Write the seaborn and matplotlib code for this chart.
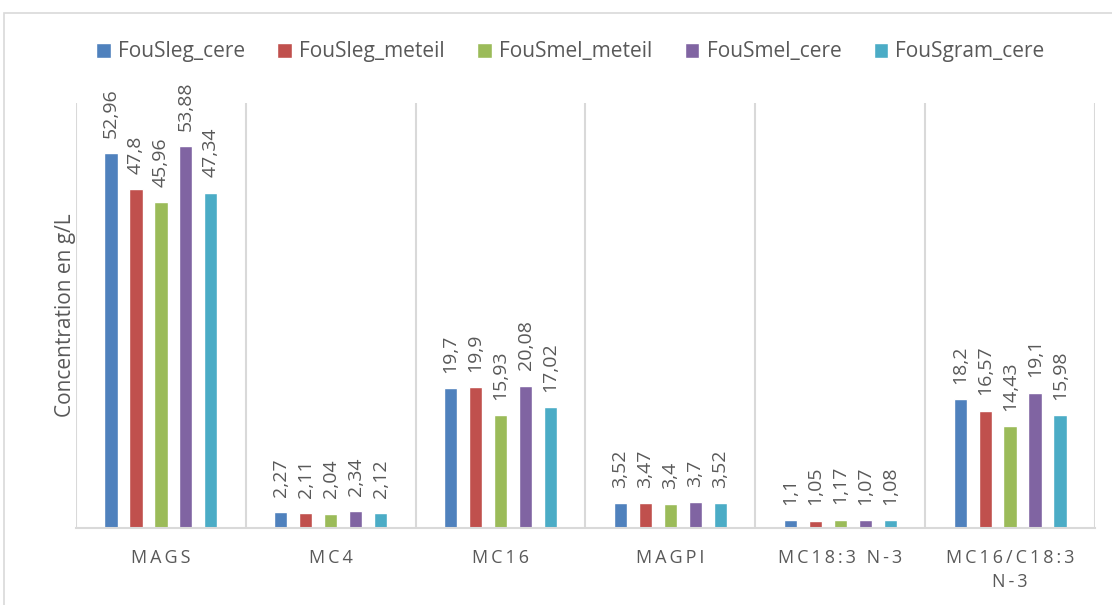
import matplotlib
matplotlib.use("Agg")
import matplotlib.pyplot as plt
from matplotlib.patches import Rectangle
import pandas as pd
import seaborn as sns

categories = ["MAGS", "MC4", "MC16", "MAGPI", "MC18:3 N-3", "MC16/C18:3\nN-3"]
series = ["FouSleg_cere", "FouSleg_meteil", "FouSmel_meteil", "FouSmel_cere", "FouSgram_cere"]
fousleg_cere = [52.96, 2.27, 19.7, 3.52, 1.1, 18.2]
fousleg_meteil = [47.8, 2.11, 19.9, 3.47, 1.05, 16.57]
fousmel_meteil = [45.96, 2.04, 15.93, 3.4, 1.17, 14.43]
fousmel_cere = [53.88, 2.34, 20.08, 3.7, 1.07, 19.1]
fousgram_cere = [47.34, 2.12, 17.02, 3.52, 1.08, 15.98]
colors = ["#4F81BD", "#C0504D", "#9BBB59", "#8064A2", "#4BACC6"]
y_label = "Concentration en g/L"

values = [fousleg_cere, fousleg_meteil, fousmel_meteil, fousmel_cere, fousgram_cere]
rows = []
for name, vals in zip(series, values):
    for cat, v in zip(categories, vals):
        rows.append({"categorie": cat, "serie": name, "valeur": v})
df = pd.DataFrame(rows)

sns.set_style("white")
plt.rcParams["font.family"] = ["Open Sans", "DejaVu Sans"]
text_color = "#595959"
line_color = "#D9D9D9"

fig = plt.figure(figsize=(11.12, 6.05), dpi=100)
fig.patches.append(Rectangle((4 / 1112, -0.05), 1.2, 1 - 13 / 605 + 0.05,
                             transform=fig.transFigure, fill=False,
                             edgecolor=line_color, linewidth=1.2))
ax = fig.add_axes([76 / 1112, 1 - 528 / 605, (1095 - 76) / 1112, (528 - 103) / 605])

sns.barplot(data=df, x="categorie", y="valeur", hue="serie", order=categories,
            hue_order=series, palette=colors, width=0.735, gap=0.47,
            saturation=1, ax=ax, legend=True)

ax.set_ylim(0, 60)
ax.set_xlim(-0.5, len(categories) - 0.5)
ax.set_yticks([])
ax.set_xlabel("")
ax.set_ylabel(y_label, fontsize=15, color=text_color, labelpad=0)
for side in ["top", "left", "right"]:
    ax.spines[side].set_visible(False)
ax.spines["bottom"].set_color(line_color)
ax.spines["bottom"].set_linewidth(1.5)
for b in range(len(categories) + 1):
    ax.axvline(b - 0.5, color=line_color, linewidth=1.5, zorder=0)


def tracked(text):
    # widen letter spacing of the category names
    return "\n".join("\u2009".join(line) for line in text.split("\n"))


ax.set_xticks(range(len(categories)))
ax.set_xticklabels([tracked(c) for c in categories], fontsize=13,
                   color=text_color, linespacing=1.45)
ax.tick_params(axis="x", length=0, pad=15)

for container in ax.containers:
    labels = [f"{v:g}".replace(".", ",") for v in container.datavalues]
    ax.bar_label(container, labels=labels, rotation=90, padding=11,
                 fontsize=14, color=text_color)

handles, labels = ax.get_legend_handles_labels()
ax.get_legend().remove()
fig.legend(handles, labels, loc="center", bbox_to_anchor=(0.513, 1 - 52 / 605),
           ncol=5, frameon=False, fontsize=15, handlelength=0.7, handleheight=0.7,
           handletextpad=0.35, columnspacing=1.55, labelcolor=text_color)

fig.savefig("out.png", dpi=100)
